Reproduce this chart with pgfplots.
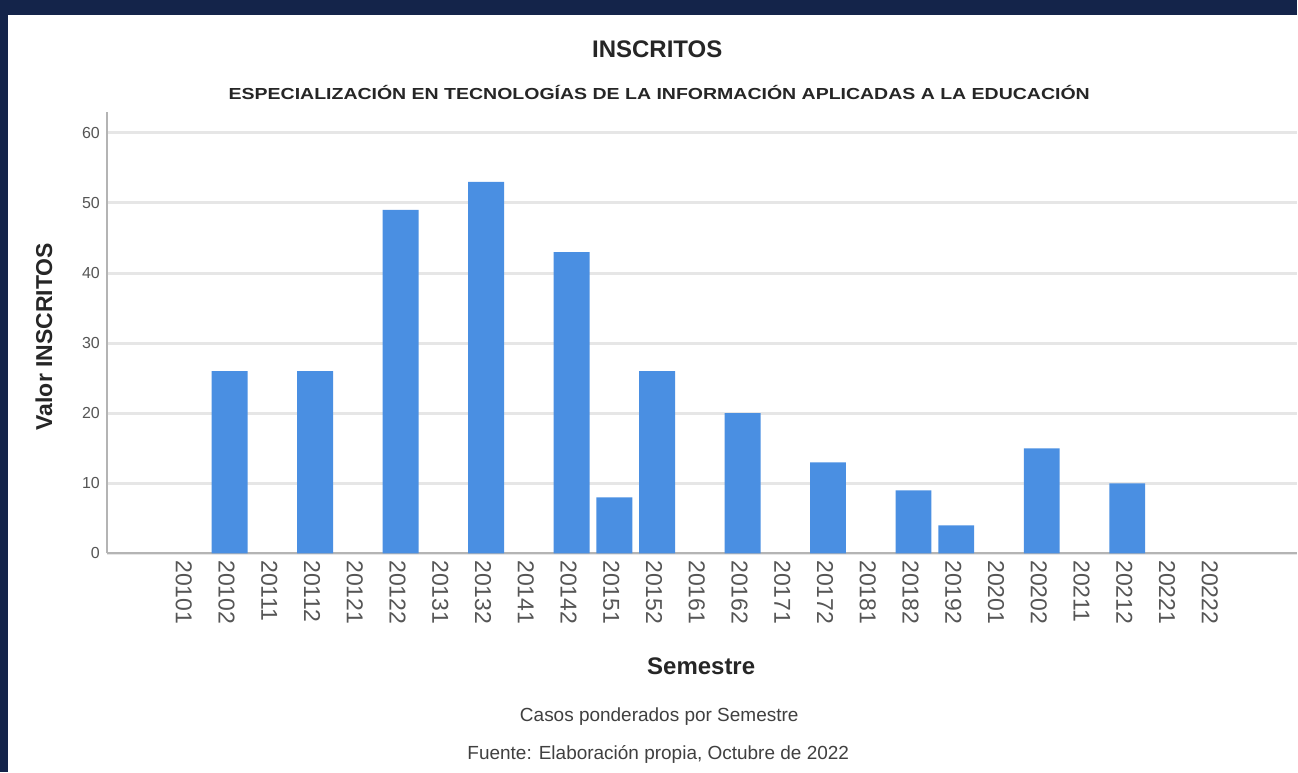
\documentclass[border=0pt]{standalone}
\usepackage{pgfplots}
\pgfplotsset{compat=1.18}
\usepackage{fontspec}
\setmainfont{Liberation Sans}
\usepackage{graphicx}
\definecolor{navy}{HTML}{14244A}
\definecolor{barblue}{HTML}{4A8FE2}
\definecolor{gridgray}{HTML}{E6E6E6}
\definecolor{axisgray}{HTML}{B4B4B4}
\definecolor{ticktext}{HTML}{555555}
\begin{document}
\begin{tikzpicture}[x=1pt,y=1pt]
% frame
\fill[navy] (0,0) rectangle (649,386.5);
\fill[white] (4,0) rectangle (649,379);
\begin{axis}[
  at={(53.5pt,109.5pt)}, anchor=south west,
  scale only axis, width=595.5pt, height=221pt,
  xmin=-1.87, xmax=25.96, ymin=0, ymax=63,
  ybar, bar width=18pt, bar shift=0pt,
  axis x line*=bottom, axis y line*=left,
  axis line style={axisgray, line width=1pt, -},
  ymajorgrids, grid style={gridgray, line width=1.5pt},
  major tick length=0pt,
  xtick={0,...,24},
  xticklabels={20101,20102,20111,20112,20121,20122,20131,20132,20141,20142,20151,20152,20161,20162,20171,20172,20181,20182,20192,20201,20202,20211,20212,20221,20222},
  ytick={0,10,...,60},
  xticklabel style={rotate=-90, anchor=west, font=\fontsize{11.5}{13}\selectfont, text=ticktext, yshift=-1.5pt},
  yticklabel style={font=\fontsize{8}{10}\selectfont, text=ticktext},
  /pgf/number format/assume math mode=true,
]
\addplot[fill=barblue, draw=none] coordinates {
  (1,26) (3,26) (5,49) (7,53) (9,43) (10,8) (11,26)
  (13,20) (15,13) (17,9) (18,4) (20,15) (22,10)
};
\end{axis}
% titles and notes
\node[font=\bfseries\fontsize{12}{14}\selectfont, text=black!85] at (329,362) {INSCRITOS};
\node[font=\bfseries\fontsize{8}{10}\selectfont, text=black!85] at (330,340) {\scalebox{1.22}[1]{ESPECIALIZACIÓN EN TECNOLOGÍAS DE LA INFORMACIÓN APLICADAS A LA EDUCACIÓN}};
\node[font=\bfseries\fontsize{11.5}{13}\selectfont, text=black!85, rotate=90] at (22,218) {Valor INSCRITOS};
\node[font=\bfseries\fontsize{12}{14}\selectfont, text=black!85] at (351,53) {Semestre};
\node[font=\fontsize{9.5}{11}\selectfont, text=black!75] at (330,28) {Casos ponderados por Semestre};
\node[font=\fontsize{9.5}{11}\selectfont, text=black!75] at (329.5,9) {Fuente: Elaboración propia, Octubre de 2022};
\end{tikzpicture}
\end{document}
